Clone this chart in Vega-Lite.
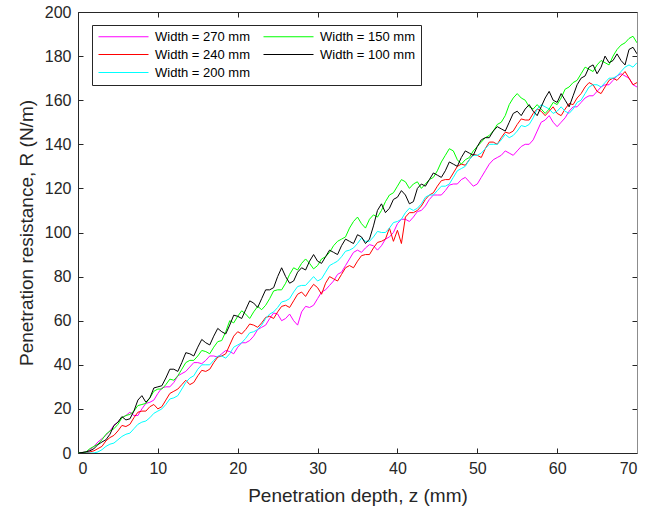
{
"$schema":"https://vega.github.io/schema/vega-lite/v6.json",
"width":559,"height":441,
"autosize":"none",
"padding":{"left":78,"top":12,"right":25,"bottom":60},
"background":"white",
"config":{"view":{"stroke":null},"font":"Liberation Sans"},
"datasets":{
"w100":[{"z":0,"R":0},{"z":0.5,"R":0.2},{"z":1,"R":0.5},{"z":1.5,"R":1},{"z":2,"R":2},{"z":2.5,"R":3.8},{"z":3,"R":5},{"z":3.5,"R":6},{"z":4,"R":8.5},{"z":4.5,"R":12.5},{"z":5,"R":14},{"z":5.5,"R":16.5},{"z":6,"R":15},{"z":6.5,"R":15.5},{"z":7,"R":19},{"z":7.5,"R":24},{"z":8,"R":26},{"z":8.5,"R":23},{"z":9,"R":25},{"z":9.5,"R":29.5},{"z":10,"R":30},{"z":10.5,"R":30.5},{"z":11,"R":34},{"z":11.5,"R":38},{"z":12,"R":38},{"z":12.5,"R":37},{"z":13,"R":41},{"z":13.5,"R":45.5},{"z":14,"R":45},{"z":14.5,"R":44},{"z":15,"R":48},{"z":15.5,"R":51.5},{"z":16,"R":50},{"z":16.5,"R":49},{"z":17,"R":53},{"z":17.5,"R":56.5},{"z":18,"R":55},{"z":18.5,"R":54},{"z":19,"R":58},{"z":19.5,"R":62.5},{"z":20,"R":62},{"z":20.5,"R":61},{"z":21,"R":65},{"z":21.5,"R":69},{"z":22,"R":68},{"z":22.5,"R":66},{"z":23,"R":70},{"z":23.5,"R":74},{"z":24,"R":74},{"z":24.5,"R":75},{"z":25,"R":80},{"z":25.5,"R":84},{"z":26,"R":80},{"z":26.5,"R":77},{"z":27,"R":78},{"z":27.5,"R":82},{"z":28,"R":84},{"z":28.5,"R":83},{"z":29,"R":87},{"z":29.5,"R":90},{"z":30,"R":87},{"z":30.5,"R":86},{"z":31,"R":89},{"z":31.5,"R":92},{"z":32,"R":91},{"z":32.5,"R":90},{"z":33,"R":94},{"z":33.5,"R":97},{"z":34,"R":96},{"z":34.5,"R":95},{"z":35,"R":99},{"z":35.5,"R":98},{"z":36,"R":95},{"z":36.5,"R":97},{"z":37,"R":103},{"z":37.5,"R":110},{"z":38,"R":113},{"z":38.5,"R":109},{"z":39,"R":111},{"z":39.5,"R":115},{"z":40,"R":116},{"z":40.5,"R":119},{"z":41,"R":117},{"z":41.5,"R":113},{"z":42,"R":114},{"z":42.5,"R":120},{"z":43,"R":122},{"z":43.5,"R":121},{"z":44,"R":124},{"z":44.5,"R":127},{"z":45,"R":126},{"z":45.5,"R":125},{"z":46,"R":128},{"z":46.5,"R":132},{"z":47,"R":131},{"z":47.5,"R":130},{"z":48,"R":134},{"z":48.5,"R":137},{"z":49,"R":136},{"z":49.5,"R":135},{"z":50,"R":139},{"z":50.5,"R":142},{"z":51,"R":143},{"z":51.5,"R":143},{"z":52,"R":146},{"z":52.5,"R":148},{"z":53,"R":147},{"z":53.5,"R":146},{"z":54,"R":150},{"z":54.5,"R":154},{"z":55,"R":155},{"z":55.5,"R":153},{"z":56,"R":156},{"z":56.5,"R":158},{"z":57,"R":155},{"z":57.5,"R":153},{"z":58,"R":157},{"z":58.5,"R":161},{"z":59,"R":164},{"z":59.5,"R":160},{"z":60,"R":159},{"z":60.5,"R":163},{"z":61,"R":160},{"z":61.5,"R":157},{"z":62,"R":162},{"z":62.5,"R":167},{"z":63,"R":170},{"z":63.5,"R":171},{"z":64,"R":175},{"z":64.5,"R":176},{"z":65,"R":172},{"z":65.5,"R":175},{"z":66,"R":180},{"z":66.5,"R":177},{"z":67,"R":178},{"z":67.5,"R":181},{"z":68,"R":178},{"z":68.5,"R":176},{"z":69,"R":183},{"z":69.5,"R":184},{"z":70,"R":181}],
"w150":[{"z":0,"R":0},{"z":0.5,"R":0.2},{"z":1,"R":0.5},{"z":1.5,"R":2},{"z":2,"R":3},{"z":2.5,"R":4},{"z":3,"R":6},{"z":3.5,"R":8.5},{"z":4,"R":10},{"z":4.5,"R":11},{"z":5,"R":13},{"z":5.5,"R":16},{"z":6,"R":17},{"z":6.5,"R":17.5},{"z":7,"R":19},{"z":7.5,"R":21.5},{"z":8,"R":22},{"z":8.5,"R":22.5},{"z":9,"R":25},{"z":9.5,"R":28},{"z":10,"R":29},{"z":10.5,"R":29},{"z":11,"R":31},{"z":11.5,"R":33.5},{"z":12,"R":33},{"z":12.5,"R":35},{"z":13,"R":38},{"z":13.5,"R":41},{"z":14,"R":42},{"z":14.5,"R":42},{"z":15,"R":44},{"z":15.5,"R":46.5},{"z":16,"R":46},{"z":16.5,"R":45},{"z":17,"R":48},{"z":17.5,"R":50.5},{"z":18,"R":51},{"z":18.5,"R":55},{"z":19,"R":60},{"z":19.5,"R":59},{"z":20,"R":62},{"z":20.5,"R":64.5},{"z":21,"R":63},{"z":21.5,"R":61},{"z":22,"R":64},{"z":22.5,"R":66.5},{"z":23,"R":65},{"z":23.5,"R":67},{"z":24,"R":70},{"z":24.5,"R":73.5},{"z":25,"R":74},{"z":25.5,"R":74},{"z":26,"R":77},{"z":26.5,"R":81},{"z":27,"R":84},{"z":27.5,"R":83},{"z":28,"R":86},{"z":28.5,"R":88},{"z":29,"R":86},{"z":29.5,"R":83.5},{"z":30,"R":85},{"z":30.5,"R":88},{"z":31,"R":89},{"z":31.5,"R":91},{"z":32,"R":94},{"z":32.5,"R":96},{"z":33,"R":97},{"z":33.5,"R":98},{"z":34,"R":102},{"z":34.5,"R":105},{"z":35,"R":107},{"z":35.5,"R":104},{"z":36,"R":102},{"z":36.5,"R":106},{"z":37,"R":108},{"z":37.5,"R":107},{"z":38,"R":110},{"z":38.5,"R":114},{"z":39,"R":117},{"z":39.5,"R":118},{"z":40,"R":121},{"z":40.5,"R":124},{"z":41,"R":123},{"z":41.5,"R":120},{"z":42,"R":122},{"z":42.5,"R":123},{"z":43,"R":120},{"z":43.5,"R":122},{"z":44,"R":124},{"z":44.5,"R":125},{"z":45,"R":128},{"z":45.5,"R":132},{"z":46,"R":135},{"z":46.5,"R":138},{"z":47,"R":137},{"z":47.5,"R":133},{"z":48,"R":131},{"z":48.5,"R":133},{"z":49,"R":134},{"z":49.5,"R":137},{"z":50,"R":139},{"z":50.5,"R":141},{"z":51,"R":143},{"z":51.5,"R":144},{"z":52,"R":146},{"z":52.5,"R":149},{"z":53,"R":150},{"z":53.5,"R":153},{"z":54,"R":158},{"z":54.5,"R":161},{"z":55,"R":163},{"z":55.5,"R":161},{"z":56,"R":160},{"z":56.5,"R":157},{"z":57,"R":156},{"z":57.5,"R":158},{"z":58,"R":156},{"z":58.5,"R":154},{"z":59,"R":156},{"z":59.5,"R":159},{"z":60,"R":158},{"z":60.5,"R":161},{"z":61,"R":165},{"z":61.5,"R":166},{"z":62,"R":168},{"z":62.5,"R":169},{"z":63,"R":172},{"z":63.5,"R":175},{"z":64,"R":174},{"z":64.5,"R":173},{"z":65,"R":176},{"z":65.5,"R":178},{"z":66,"R":177},{"z":66.5,"R":176},{"z":67,"R":180},{"z":67.5,"R":183},{"z":68,"R":185},{"z":68.5,"R":186},{"z":69,"R":188},{"z":69.5,"R":189},{"z":70,"R":186}],
"w240":[{"z":0,"R":0},{"z":0.5,"R":0},{"z":1,"R":0},{"z":1.5,"R":0.5},{"z":2,"R":1},{"z":2.5,"R":2},{"z":3,"R":3},{"z":3.5,"R":5.5},{"z":4,"R":7},{"z":4.5,"R":8},{"z":5,"R":10},{"z":5.5,"R":12.5},{"z":6,"R":12},{"z":6.5,"R":13},{"z":7,"R":16},{"z":7.5,"R":18.5},{"z":8,"R":19},{"z":8.5,"R":19},{"z":9,"R":21},{"z":9.5,"R":22},{"z":10,"R":20},{"z":10.5,"R":21},{"z":11,"R":24},{"z":11.5,"R":27},{"z":12,"R":28},{"z":12.5,"R":29},{"z":13,"R":31},{"z":13.5,"R":33},{"z":14,"R":31},{"z":14.5,"R":32},{"z":15,"R":35},{"z":15.5,"R":37.5},{"z":16,"R":37},{"z":16.5,"R":38},{"z":17,"R":41},{"z":17.5,"R":43.5},{"z":18,"R":44},{"z":18.5,"R":45},{"z":19,"R":49},{"z":19.5,"R":53},{"z":20,"R":55},{"z":20.5,"R":54},{"z":21,"R":56},{"z":21.5,"R":58.5},{"z":22,"R":58},{"z":22.5,"R":57},{"z":23,"R":59},{"z":23.5,"R":61.5},{"z":24,"R":62},{"z":24.5,"R":61},{"z":25,"R":64},{"z":25.5,"R":66.5},{"z":26,"R":67},{"z":26.5,"R":66},{"z":27,"R":69},{"z":27.5,"R":72},{"z":28,"R":73},{"z":28.5,"R":71},{"z":29,"R":74},{"z":29.5,"R":76.5},{"z":30,"R":75},{"z":30.5,"R":72},{"z":31,"R":77},{"z":31.5,"R":80},{"z":32,"R":79},{"z":32.5,"R":78},{"z":33,"R":81},{"z":33.5,"R":84},{"z":34,"R":85},{"z":34.5,"R":84},{"z":35,"R":87},{"z":35.5,"R":89.5},{"z":36,"R":90},{"z":36.5,"R":90},{"z":37,"R":93},{"z":37.5,"R":95.5},{"z":38,"R":96},{"z":38.5,"R":97},{"z":39,"R":102},{"z":39.5,"R":96},{"z":40,"R":101},{"z":40.5,"R":95},{"z":41,"R":107},{"z":41.5,"R":109},{"z":42,"R":109},{"z":42.5,"R":110},{"z":43,"R":112},{"z":43.5,"R":115},{"z":44,"R":117},{"z":44.5,"R":118},{"z":45,"R":121},{"z":45.5,"R":123.5},{"z":46,"R":124},{"z":46.5,"R":124},{"z":47,"R":127},{"z":47.5,"R":130},{"z":48,"R":131},{"z":48.5,"R":130.5},{"z":49,"R":133},{"z":49.5,"R":135.5},{"z":50,"R":135},{"z":50.5,"R":134},{"z":51,"R":138},{"z":51.5,"R":141},{"z":52,"R":141},{"z":52.5,"R":140},{"z":53,"R":143},{"z":53.5,"R":145.5},{"z":54,"R":145},{"z":54.5,"R":146},{"z":55,"R":149},{"z":55.5,"R":151.5},{"z":56,"R":151},{"z":56.5,"R":151},{"z":57,"R":154},{"z":57.5,"R":156},{"z":58,"R":155},{"z":58.5,"R":153},{"z":59,"R":155},{"z":59.5,"R":157},{"z":60,"R":154},{"z":60.5,"R":153},{"z":61,"R":156},{"z":61.5,"R":158.5},{"z":62,"R":158},{"z":62.5,"R":161},{"z":63,"R":163},{"z":63.5,"R":166},{"z":64,"R":168},{"z":64.5,"R":167},{"z":65,"R":164},{"z":65.5,"R":163},{"z":66,"R":166},{"z":66.5,"R":169},{"z":67,"R":170},{"z":67.5,"R":169},{"z":68,"R":171},{"z":68.5,"R":173},{"z":69,"R":170},{"z":69.5,"R":167},{"z":70,"R":168}],
"w200":[{"z":0,"R":0},{"z":0.5,"R":0},{"z":1,"R":0},{"z":1.5,"R":0},{"z":2,"R":0},{"z":2.5,"R":0.5},{"z":3,"R":1.5},{"z":3.5,"R":3},{"z":4,"R":4},{"z":4.5,"R":4.5},{"z":5,"R":6},{"z":5.5,"R":7.5},{"z":6,"R":8.5},{"z":6.5,"R":9},{"z":7,"R":11},{"z":7.5,"R":13},{"z":8,"R":14},{"z":8.5,"R":14.5},{"z":9,"R":16},{"z":9.5,"R":18},{"z":10,"R":19},{"z":10.5,"R":20},{"z":11,"R":22},{"z":11.5,"R":24.5},{"z":12,"R":25},{"z":12.5,"R":26},{"z":13,"R":29},{"z":13.5,"R":32},{"z":14,"R":34},{"z":14.5,"R":35},{"z":15,"R":38},{"z":15.5,"R":40},{"z":16,"R":40},{"z":16.5,"R":40},{"z":17,"R":42},{"z":17.5,"R":44},{"z":18,"R":44},{"z":18.5,"R":43},{"z":19,"R":45},{"z":19.5,"R":48},{"z":20,"R":49},{"z":20.5,"R":50},{"z":21,"R":52},{"z":21.5,"R":54.5},{"z":22,"R":55},{"z":22.5,"R":56},{"z":23,"R":58},{"z":23.5,"R":61},{"z":24,"R":63},{"z":24.5,"R":64},{"z":25,"R":66},{"z":25.5,"R":68.5},{"z":26,"R":69},{"z":26.5,"R":70},{"z":27,"R":73},{"z":27.5,"R":75.5},{"z":28,"R":76},{"z":28.5,"R":76},{"z":29,"R":78},{"z":29.5,"R":80},{"z":30,"R":78},{"z":30.5,"R":79},{"z":31,"R":82},{"z":31.5,"R":85},{"z":32,"R":86},{"z":32.5,"R":87},{"z":33,"R":89},{"z":33.5,"R":91.5},{"z":34,"R":92},{"z":34.5,"R":93},{"z":35,"R":95},{"z":35.5,"R":97.5},{"z":36,"R":96},{"z":36.5,"R":96},{"z":37,"R":98},{"z":37.5,"R":100.5},{"z":38,"R":100},{"z":38.5,"R":100},{"z":39,"R":102},{"z":39.5,"R":104.5},{"z":40,"R":105},{"z":40.5,"R":106},{"z":41,"R":109},{"z":41.5,"R":111},{"z":42,"R":110},{"z":42.5,"R":111},{"z":43,"R":113},{"z":43.5,"R":116},{"z":44,"R":117},{"z":44.5,"R":117},{"z":45,"R":119},{"z":45.5,"R":121},{"z":46,"R":121},{"z":46.5,"R":122},{"z":47,"R":125},{"z":47.5,"R":128},{"z":48,"R":129},{"z":48.5,"R":130},{"z":49,"R":133},{"z":49.5,"R":135},{"z":50,"R":135},{"z":50.5,"R":136},{"z":51,"R":138},{"z":51.5,"R":140},{"z":52,"R":140},{"z":52.5,"R":140},{"z":53,"R":142},{"z":53.5,"R":144.5},{"z":54,"R":143},{"z":54.5,"R":144},{"z":55,"R":146},{"z":55.5,"R":148.5},{"z":56,"R":148},{"z":56.5,"R":149},{"z":57,"R":152},{"z":57.5,"R":156},{"z":58,"R":158},{"z":58.5,"R":157},{"z":59,"R":156},{"z":59.5,"R":154},{"z":60,"R":155},{"z":60.5,"R":157},{"z":61,"R":155},{"z":61.5,"R":154},{"z":62,"R":156},{"z":62.5,"R":159},{"z":63,"R":160},{"z":63.5,"R":163},{"z":64,"R":166},{"z":64.5,"R":167},{"z":65,"R":167},{"z":65.5,"R":166},{"z":66,"R":168},{"z":66.5,"R":170},{"z":67,"R":170},{"z":67.5,"R":171},{"z":68,"R":173},{"z":68.5,"R":175},{"z":69,"R":176},{"z":69.5,"R":175},{"z":70,"R":177}],
"w270":[{"z":0,"R":0},{"z":0.5,"R":0.2},{"z":1,"R":0.5},{"z":1.5,"R":1.5},{"z":2,"R":3},{"z":2.5,"R":5},{"z":3,"R":6.5},{"z":3.5,"R":8},{"z":4,"R":10},{"z":4.5,"R":12.5},{"z":5,"R":14},{"z":5.5,"R":16},{"z":6,"R":17},{"z":6.5,"R":18.5},{"z":7,"R":17},{"z":7.5,"R":17},{"z":8,"R":20},{"z":8.5,"R":22.5},{"z":9,"R":23},{"z":9.5,"R":24},{"z":10,"R":27},{"z":10.5,"R":29.5},{"z":11,"R":30},{"z":11.5,"R":30},{"z":12,"R":32},{"z":12.5,"R":35},{"z":13,"R":36},{"z":13.5,"R":37},{"z":14,"R":39},{"z":14.5,"R":41},{"z":15,"R":41},{"z":15.5,"R":40.5},{"z":16,"R":42},{"z":16.5,"R":44},{"z":17,"R":44},{"z":17.5,"R":43.5},{"z":18,"R":45},{"z":18.5,"R":46.5},{"z":19,"R":46},{"z":19.5,"R":45},{"z":20,"R":48},{"z":20.5,"R":50},{"z":21,"R":50},{"z":21.5,"R":51},{"z":22,"R":53},{"z":22.5,"R":56},{"z":23,"R":57},{"z":23.5,"R":58},{"z":24,"R":61},{"z":24.5,"R":63.5},{"z":25,"R":63},{"z":25.5,"R":60},{"z":26,"R":61},{"z":26.5,"R":63},{"z":27,"R":60},{"z":27.5,"R":58},{"z":28,"R":64},{"z":28.5,"R":66.5},{"z":29,"R":66},{"z":29.5,"R":67},{"z":30,"R":70},{"z":30.5,"R":73},{"z":31,"R":74},{"z":31.5,"R":76},{"z":32,"R":78},{"z":32.5,"R":81},{"z":33,"R":82},{"z":33.5,"R":85},{"z":34,"R":88},{"z":34.5,"R":91},{"z":35,"R":92},{"z":35.5,"R":91},{"z":36,"R":93},{"z":36.5,"R":94.5},{"z":37,"R":94},{"z":37.5,"R":92},{"z":38,"R":94},{"z":38.5,"R":97},{"z":39,"R":98},{"z":39.5,"R":100},{"z":40,"R":104},{"z":40.5,"R":106},{"z":41,"R":106},{"z":41.5,"R":105},{"z":42,"R":107},{"z":42.5,"R":109.5},{"z":43,"R":110},{"z":43.5,"R":112},{"z":44,"R":115},{"z":44.5,"R":117},{"z":45,"R":117},{"z":45.5,"R":117},{"z":46,"R":119},{"z":46.5,"R":121.5},{"z":47,"R":122},{"z":47.5,"R":122},{"z":48,"R":124},{"z":48.5,"R":125},{"z":49,"R":123},{"z":49.5,"R":121},{"z":50,"R":122},{"z":50.5,"R":125},{"z":51,"R":128},{"z":51.5,"R":131},{"z":52,"R":133},{"z":52.5,"R":134},{"z":53,"R":135},{"z":53.5,"R":137},{"z":54,"R":136},{"z":54.5,"R":135},{"z":55,"R":137},{"z":55.5,"R":139},{"z":56,"R":140},{"z":56.5,"R":140},{"z":57,"R":142},{"z":57.5,"R":146},{"z":58,"R":150},{"z":58.5,"R":151},{"z":59,"R":153},{"z":59.5,"R":150},{"z":60,"R":148},{"z":60.5,"R":150},{"z":61,"R":152},{"z":61.5,"R":155},{"z":62,"R":157},{"z":62.5,"R":157},{"z":63,"R":159},{"z":63.5,"R":161},{"z":64,"R":162},{"z":64.5,"R":162},{"z":65,"R":164},{"z":65.5,"R":166},{"z":66,"R":167},{"z":66.5,"R":167},{"z":67,"R":169},{"z":67.5,"R":171},{"z":68,"R":172},{"z":68.5,"R":171},{"z":69,"R":170},{"z":69.5,"R":167},{"z":70,"R":166}]
},
"layer":[
{"data":{"name":"w270"},"mark":{"type":"line","strokeWidth":1,"clip":true},
"encoding":{
"x":{"field":"z","type":"quantitative","scale":{"domain":[0,70],"nice":false},
"axis":{"orient":"bottom","values":[0,10,20,30,40,50,60,70],"title":"Penetration depth, z (mm)","grid":false,"tickSize":-5,"tickColor":"#262626","domainColor":"#262626","labelColor":"#262626","labelFontSize":16,"labelPadding":12,"labelFont":"Liberation Sans","titleFont":"Liberation Sans","titleFontSize":19,"titleFontWeight":"normal","titleColor":"#262626","titlePadding":10}},
"y":{"field":"R","type":"quantitative","scale":{"domain":[0,200],"nice":false},
"axis":{"orient":"left","values":[0,20,40,60,80,100,120,140,160,180,200],"title":"Penetration resistance, R (N/m)","grid":false,"tickSize":-5,"tickColor":"#262626","domainColor":"#262626","labelColor":"#262626","labelFontSize":16,"labelPadding":12,"labelFont":"Liberation Sans","titleFont":"Liberation Sans","titleFontSize":19,"titleFontWeight":"normal","titleColor":"#262626","titlePadding":8}},
"color":{"datum":"Width = 270 mm","type":"nominal",
"scale":{"domain":["Width = 270 mm","Width = 240 mm","Width = 200 mm","Width = 150 mm","Width = 100 mm"],"range":["#FF00FF","#FF0000","#00FFFF","#00FF00","#000000"]},
"legend":{"orient":"none","legendX":14,"legendY":13,"columns":2,"title":null,"symbolType":"M-1,0H9","symbolSize":100,"symbolStrokeWidth":1,"labelFont":"Liberation Sans","labelFontSize":13,"labelColor":"#000000","strokeColor":"#262626","fillColor":"white","padding":5,"rowPadding":4,"columnPadding":10,"labelOffset":45}}}},
{"data":{"name":"w240"},"mark":{"type":"line","strokeWidth":1,"clip":true},
"encoding":{
"x":{"field":"z","type":"quantitative","axis":{"orient":"top","values":[0,10,20,30,40,50,60,70],"labels":false,"title":null,"grid":false,"tickSize":-5,"tickColor":"#262626","domainColor":"#262626"}},
"y":{"field":"R","type":"quantitative","axis":{"orient":"right","values":[0,20,40,60,80,100,120,140,160,180,200],"labels":false,"title":null,"grid":false,"tickSize":-5,"tickColor":"#262626","domainColor":"#8c8c8c"}},
"color":{"datum":"Width = 240 mm","type":"nominal"}}},
{"data":{"name":"w200"},"mark":{"type":"line","strokeWidth":1,"clip":true},
"encoding":{"x":{"field":"z","type":"quantitative","axis":null},"y":{"field":"R","type":"quantitative","axis":null},"color":{"datum":"Width = 200 mm","type":"nominal"}}},
{"data":{"name":"w150"},"mark":{"type":"line","strokeWidth":1,"clip":true},
"encoding":{"x":{"field":"z","type":"quantitative","axis":null},"y":{"field":"R","type":"quantitative","axis":null},"color":{"datum":"Width = 150 mm","type":"nominal"}}},
{"data":{"name":"w100"},"mark":{"type":"line","strokeWidth":1,"clip":true},
"encoding":{"x":{"field":"z","type":"quantitative","axis":null},"y":{"field":"R","type":"quantitative","axis":null},"color":{"datum":"Width = 100 mm","type":"nominal"}}}
],
"resolve":{"axis":{"x":"independent","y":"independent"}}
}
